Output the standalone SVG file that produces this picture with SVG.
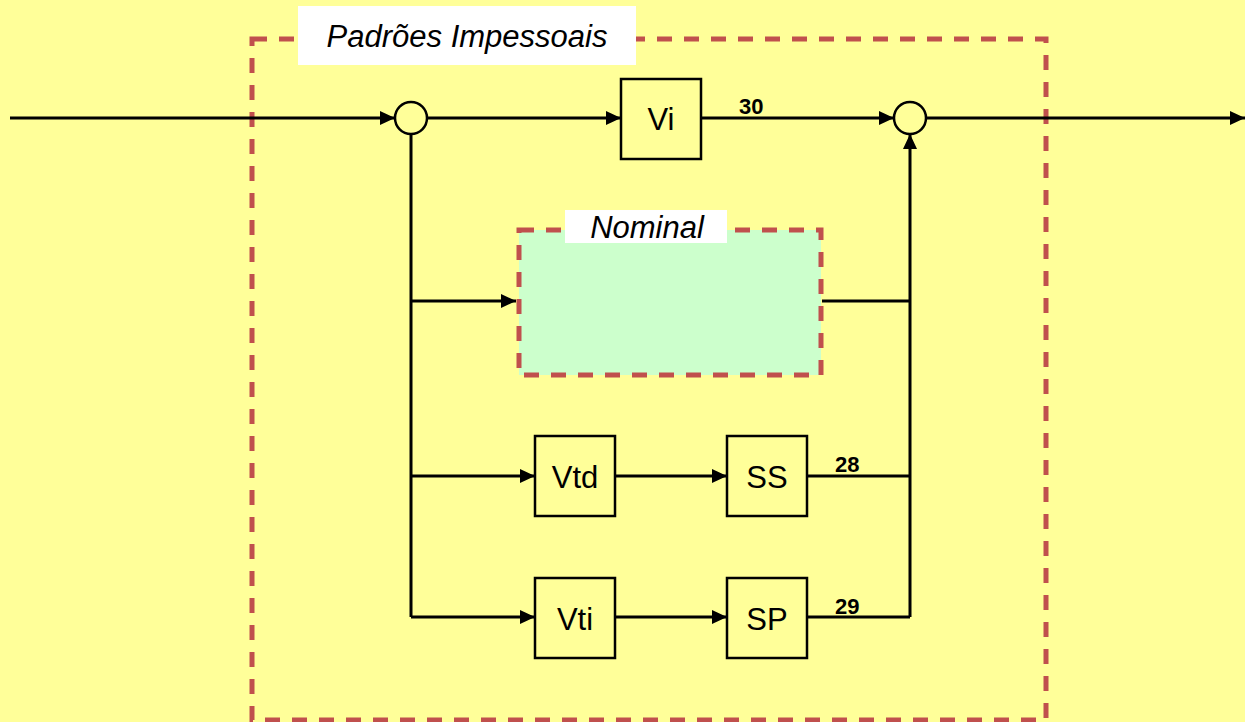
<svg xmlns="http://www.w3.org/2000/svg" width="1245" height="722" viewBox="0 0 1245 722">
<style>
.ln{stroke:#000;stroke-width:3;fill:none}
.box{fill:none;stroke:#000;stroke-width:2.5}
.dash{stroke:#C0504D;stroke-width:5;stroke-dasharray:15 12}
.t{font-family:"Liberation Sans",Arial,sans-serif;font-size:31px;fill:#000}
.it{font-family:"Liberation Sans",Arial,sans-serif;font-size:31px;font-style:italic;fill:#000}
.num{font-family:"Liberation Sans",Arial,sans-serif;font-size:22px;font-weight:bold;fill:#000}
</style>
<defs>
<marker id="ah" markerWidth="15" markerHeight="14" refX="15" refY="7" orient="auto" markerUnits="userSpaceOnUse">
<path d="M0,0 L15,7 L0,14 Z" fill="#000"/>
</marker>
</defs>
<rect x="0" y="0" width="1245" height="722" fill="#FFFF99"/>
<g id="outer">
<rect x="252" y="39" width="794" height="681" fill="none" class="dash"/>
<rect x="298" y="6" width="338" height="59" fill="#fff"/>
<text x="467" y="47" class="it" text-anchor="middle">Padrões Impessoais</text>
</g>
<g id="nominal">
<rect x="519" y="230" width="302" height="145" fill="#CCFFCC" class="dash"/>
<rect x="565" y="210" width="162" height="33" fill="#fff"/>
<text x="647" y="238" class="it" text-anchor="middle">Nominal</text>
</g>
<g id="connectors">
<line x1="10" y1="118" x2="395" y2="118" class="ln" marker-end="url(#ah)"/>
<line x1="427" y1="118" x2="621" y2="118" class="ln" marker-end="url(#ah)"/>
<line x1="701" y1="118" x2="894" y2="118" class="ln" marker-end="url(#ah)"/>
<line x1="926" y1="118" x2="1245" y2="118" class="ln" marker-end="url(#ah)"/>
<line x1="411" y1="134" x2="411" y2="617" class="ln"/>
<line x1="411" y1="301" x2="516" y2="301" class="ln" marker-end="url(#ah)"/>
<line x1="411" y1="476" x2="535" y2="476" class="ln" marker-end="url(#ah)"/>
<line x1="411" y1="617" x2="535" y2="617" class="ln" marker-end="url(#ah)"/>
<line x1="615" y1="476" x2="727" y2="476" class="ln" marker-end="url(#ah)"/>
<line x1="615" y1="617" x2="727" y2="617" class="ln" marker-end="url(#ah)"/>
<line x1="822" y1="301" x2="910" y2="301" class="ln"/>
<line x1="807" y1="476" x2="910" y2="476" class="ln"/>
<line x1="807" y1="617" x2="910" y2="617" class="ln"/>
<line x1="910" y1="617" x2="910" y2="134" class="ln" marker-end="url(#ah)"/>
<text x="739" y="114" class="num">30</text>
<text x="835" y="472" class="num">28</text>
<text x="835" y="614" class="num">29</text>
</g>
<g id="sum1"><circle cx="411" cy="118" r="16" fill="none" stroke="#000" stroke-width="2.5"/></g>
<g id="sum2"><circle cx="910" cy="118" r="16" fill="none" stroke="#000" stroke-width="2.5"/></g>
<g id="Vi"><rect x="621" y="79" width="80" height="80" class="box"/><text x="661" y="130" class="t" text-anchor="middle">Vi</text></g>
<g id="Vtd"><rect x="535" y="436" width="80" height="80" class="box"/><text x="575" y="488" class="t" text-anchor="middle">Vtd</text></g>
<g id="SS"><rect x="727" y="436" width="80" height="80" class="box"/><text x="767" y="488" class="t" text-anchor="middle">SS</text></g>
<g id="Vti"><rect x="535" y="578" width="80" height="80" class="box"/><text x="575" y="630" class="t" text-anchor="middle">Vti</text></g>
<g id="SP"><rect x="727" y="578" width="80" height="80" class="box"/><text x="767" y="630" class="t" text-anchor="middle">SP</text></g>
</svg>
